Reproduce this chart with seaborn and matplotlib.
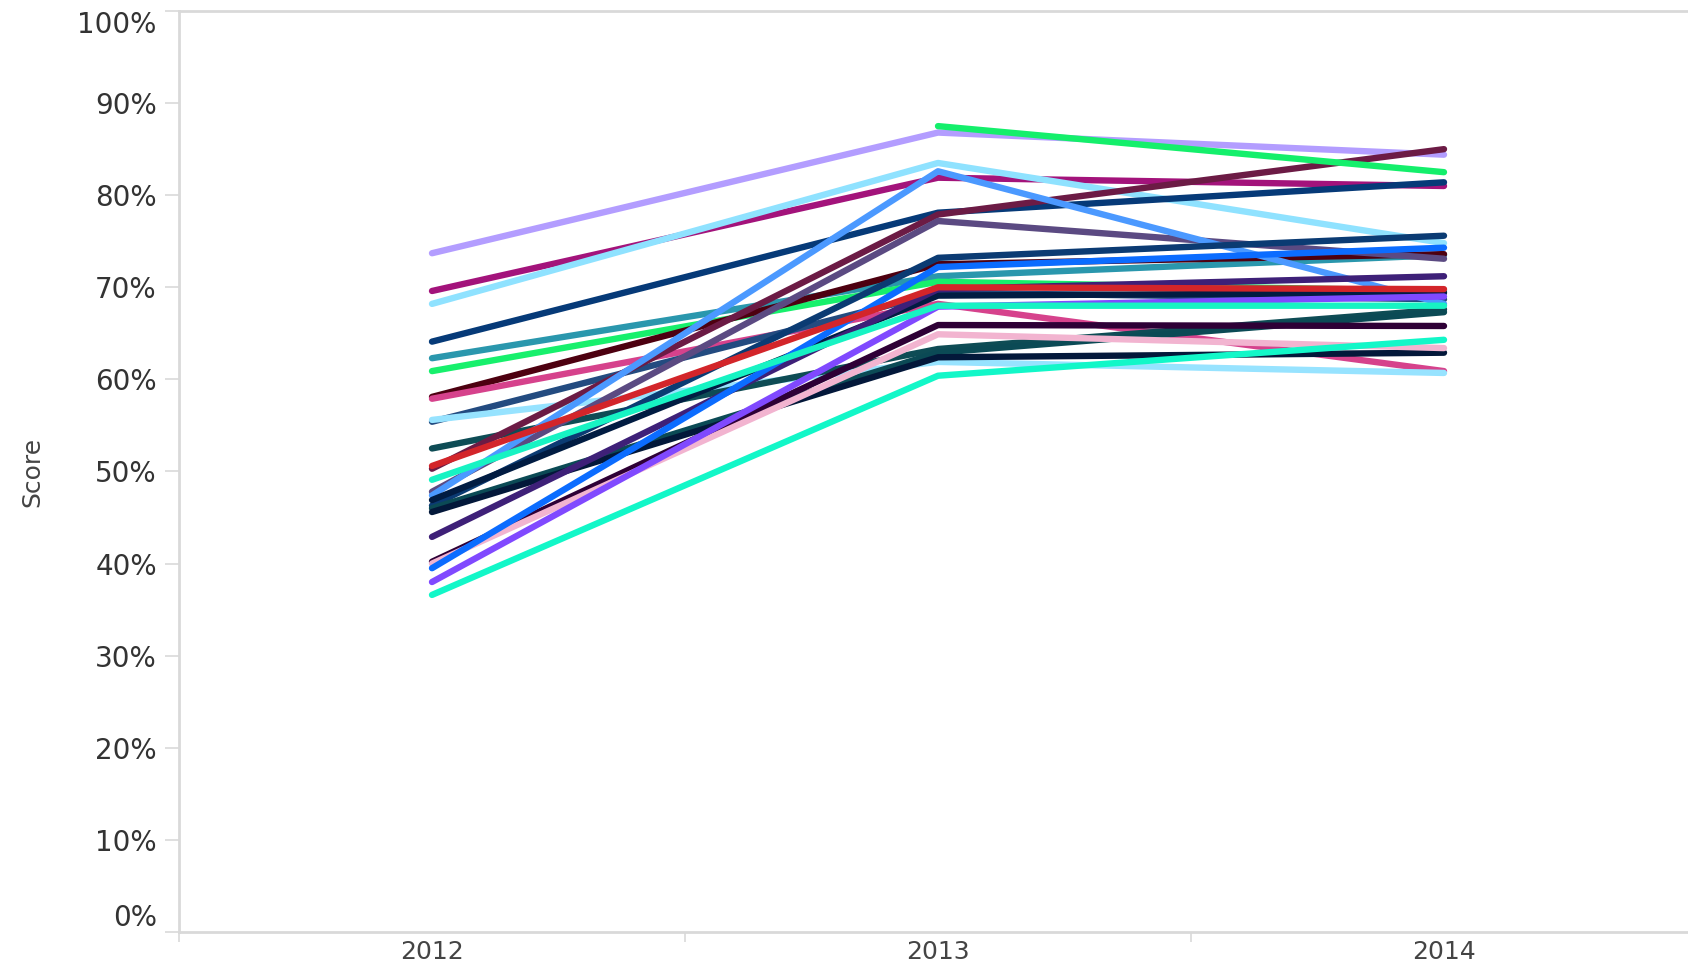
import matplotlib
matplotlib.use("Agg")
import matplotlib.pyplot as plt
import seaborn as sns
import pandas as pd
import numpy as np

years = ["2012", "2013", "2014"]

# one entry per line (percent)
series = ["S01", "S02", "S03", "S04", "S05", "S06", "S07", "S08", "S09",
          "S10", "S11", "S12", "S13", "S14", "S15", "S16", "S17", "S18",
          "S19", "S20", "S21", "S22", "S23", "S24", "S25", "S26", "S27"]
score_2012 = [73.7, 69.6, 68.2, 64.1, 62.3, 60.9, 58.1, 57.9, 55.4,
              55.6, 52.5, 50.3, 47.8, 47.4, 46.3, 46.9, 46.0, 45.6,
              42.9, 40.2, 40.0, 39.5, 38.0, 36.6, 49.1, 50.6, np.nan]
score_2013 = [86.8, 81.9, 83.5, 78.1, 71.2, 70.6, 72.5, 68.2, 69.4,
              61.9, 63.3, 77.9, 77.2, 82.6, 73.2, 69.1, 62.9, 62.4,
              69.8, 65.9, 64.9, 72.2, 67.9, 60.4, 68.0, 70.0, 87.5]
score_2014 = [84.4, 81.0, 74.8, 81.4, 73.5, 69.6, 73.6, 60.9, 68.7,
              60.7, 67.6, 85.0, 73.1, 68.2, 75.6, 69.4, 67.3, 62.9,
              71.2, 65.8, 63.4, 74.3, 69.0, 64.3, 68.0, 69.8, 82.5]
colors = ["#b39dff", "#a3137b", "#8fe2ff", "#063a78", "#2a97ad", "#17f06c",
          "#4d0010", "#d6428c", "#234b80", "#97e3ff", "#0e4c55", "#6c1b45",
          "#5b4a82", "#4b99ff", "#0b3b73", "#011c42", "#0b4a55", "#03183a",
          "#3e2078", "#2e0036", "#f2b4d0", "#0b6cff", "#8049ff", "#12f7c8",
          "#17f3c3", "#d3252a", "#14ef6b"]

# long-form table for seaborn
rows = []
for name, a, b, c in zip(series, score_2012, score_2013, score_2014):
    for yr, v in zip(years, [a, b, c]):
        if not np.isnan(v):
            rows.append({"Year": yr, "Score": v, "Series": name})
df = pd.DataFrame(rows)
df["x"] = df["Year"].map({y: i for i, y in enumerate(years)})

sns.set_style("white")
plt.rcParams["font.family"] = ["DejaVu Sans"]

fig = plt.figure(figsize=(16.88, 9.69), dpi=100)
ax = fig.add_axes([179 / 1688, 37 / 969, 1518 / 1688, 921 / 969])

sns.lineplot(data=df, x="x", y="Score", hue="Series", units="Series",
             estimator=None, sort=False, palette=dict(zip(series, colors)),
             linewidth=4.6, legend=False, ax=ax)

ax.set_xlim(-0.5, 2.5)
ax.set_ylim(0, 100)
ax.set_yticks(range(0, 101, 10))
ax.set_yticklabels([f"{v}%" for v in range(0, 101, 10)])
ax.set_xticks(range(len(years)))
ax.set_xticklabels(years)
ax.set_xticks([-0.5, 0.5, 1.5], minor=True)

ax.tick_params(axis="y", left=True, length=10, width=1.2, color="#d9d9d9",
               labelsize=20, labelcolor="#333333", pad=6)
ax.tick_params(axis="x", which="major", length=0, labelsize=18,
               labelcolor="#444444", pad=6)
ax.tick_params(axis="x", which="minor", bottom=True, length=7, width=1.2,
               color="#d9d9d9")

# end labels sit inside the axis range, as in the reference
ylabels = ax.get_yticklabels()
ylabels[0].set_va("bottom")
ylabels[-1].set_va("top")

for side in ["left", "bottom", "top"]:
    ax.spines[side].set_visible(True)
    ax.spines[side].set_color("#d9d9d9")
    ax.spines[side].set_linewidth(2)
ax.spines["right"].set_visible(False)

ax.set_xlabel("")
ax.set_ylabel("Score", fontsize=18, color="#444444", labelpad=24)

fig.savefig("out.png", dpi=100)
